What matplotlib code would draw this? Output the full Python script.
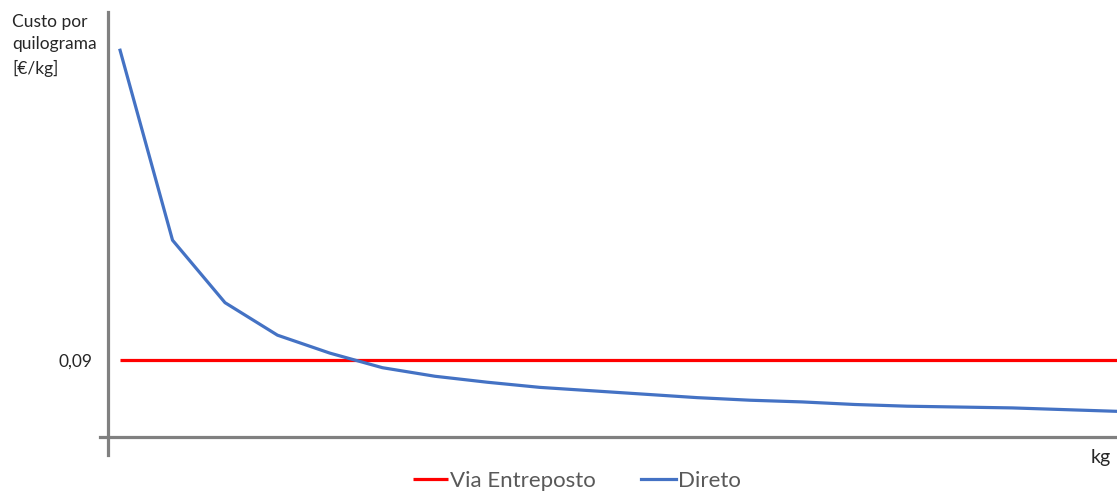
import matplotlib.pyplot as plt
import numpy as np

plt.rcParams['font.family'] = ['Lato', 'DejaVu Sans']

# quantidade (kg) e custo por kg
kg = np.arange(1, 21)
direto = [0.452, 0.230, 0.157, 0.119, 0.098, 0.081, 0.071, 0.064, 0.058, 0.054,
          0.050, 0.046, 0.043, 0.041, 0.038, 0.036, 0.035, 0.034, 0.032, 0.030]
via_entreposto = [0.09] * len(kg)
yticks = [0.09]
ytick_labels = ['0,09']

fig = plt.figure(figsize=(11.17, 4.92), dpi=100)
ax = fig.add_axes([108 / 1117, 55 / 492, 1009 / 1117, 425 / 492])

ax.plot(kg, via_entreposto, color='#FF0000', lw=2.3, label='Via Entreposto',
        solid_capstyle='butt')
ax.plot(kg, direto, color='#4472C4', lw=2.3, label='Direto')

ax.set_xlim(0.77, 20.0)
ax.set_ylim(0, 0.4967)

for s in ax.spines.values():
    s.set_visible(False)
# eixos cinzentos desenhados à mão
ax.plot([-0.008, 1], [0, 0], transform=ax.transAxes, color='#808080', lw=2.3, clip_on=False)
ax.plot([0, 0], [-0.042, 1], transform=ax.transAxes, color='#808080', lw=2.3, clip_on=False)

ax.set_xticks([])
ax.set_yticks(yticks)
ax.set_yticklabels(ytick_labels, fontsize=12.5, color='#262626')
ax.tick_params(axis='y', length=0, pad=11)

fig.text(12 / 1117, 1 - 14 / 492, 'Custo por\nquilograma\n[€/kg]', ha='left', va='top',
         fontsize=12.5, color='#262626', linespacing=1.5)
fig.text(1101 / 1117, 1 - 457 / 492, 'kg', ha='center', va='center', fontsize=14, color='#262626')

fig.legend(loc='center', bbox_to_anchor=(577 / 1117, 1 - 481 / 492), ncol=2, frameon=False,
           fontsize=16, handlelength=1.6, handletextpad=0.1, columnspacing=2.0,
           labelcolor='#595959')

fig.savefig('out.png', dpi=100, facecolor='white')
